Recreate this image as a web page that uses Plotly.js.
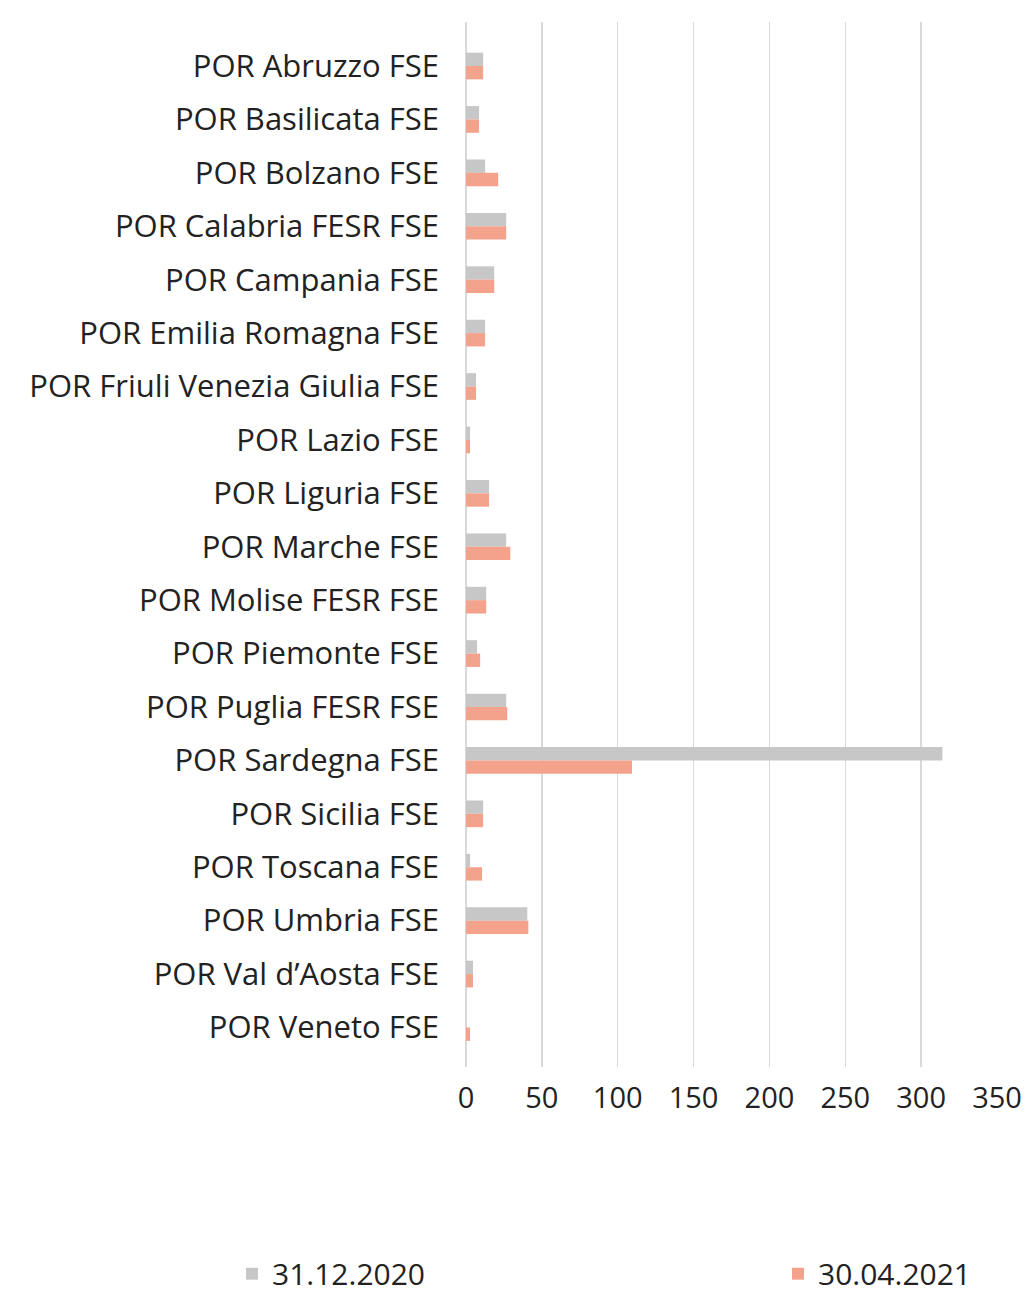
<!DOCTYPE html>
<html>
<head>
<meta charset="utf-8">
<script src="https://cdn.plot.ly/plotly-3.0.1.min.js"></script>
<style>html,body{margin:0;padding:0;background:#fff;}#chart{width:1029px;height:1297px;}</style>
</head>
<body>
<div id="chart"></div>
<script>
const categories = ["POR Abruzzo FSE", "POR Basilicata FSE", "POR Bolzano FSE", "POR Calabria FESR FSE", "POR Campania FSE", "POR Emilia Romagna FSE", "POR Friuli Venezia Giulia FSE", "POR Lazio FSE", "POR Liguria FSE", "POR Marche FSE", "POR Molise FESR FSE", "POR Piemonte FSE", "POR Puglia FESR FSE", "POR Sardegna FSE", "POR Sicilia FSE", "POR Toscana FSE", "POR Umbria FSE", "POR Val d\u2019Aosta FSE", "POR Veneto FSE"];
const values2020 = [11.3, 8.6, 12.6, 26.5, 18.6, 12.6, 6.6, 2.7, 15.2, 26.5, 13.3, 7.3, 26.5, 314, 11.3, 2.7, 40.4, 4.6, 0];
const values2021 = [11.3, 8.6, 21.2, 26.5, 18.6, 12.6, 6.6, 2.7, 15.2, 29.2, 13.3, 9.3, 27.2, 109.4, 11.3, 10.6, 41.1, 4.6, 2.7];
const seriesNames = ["31.12.2020", "30.04.2021"];
const xTicks = [0, 50, 100, 150, 200, 250, 300, 350];

const FONT = "'Open Sans', Lato, sans-serif";
const traces = [
  {type: 'bar', orientation: 'h', name: seriesNames[0], y: categories, x: values2020,
   marker: {color: '#C7C7C7'}, legend: 'legend'},
  {type: 'bar', orientation: 'h', name: seriesNames[1], y: categories, x: values2021,
   marker: {color: '#F4A28B'}, legend: 'legend2'}
];
const legendBase = {orientation: 'h', xref: 'container', yref: 'container', xanchor: 'left',
  yanchor: 'middle', y: 0.018, bgcolor: 'rgba(0,0,0,0)',
  font: {family: FONT, size: 30, color: '#222'}};
const layout = {
  width: 1029, height: 1297,
  margin: {l: 466, r: 32, t: 22, b: 230, autoexpand: false},
  paper_bgcolor: '#fff', plot_bgcolor: '#fff',
  font: {family: FONT, size: 29, color: '#222'},
  barmode: 'group', bargap: 0.5, bargroupgap: 0,
  showlegend: true,
  legend: Object.assign({}, legendBase, {x: 232 / 1029}),
  legend2: Object.assign({}, legendBase, {x: 778 / 1029}),
  xaxis: {range: [0, 350], tickvals: xTicks, ticktext: xTicks.map(String),
          showgrid: true, gridcolor: '#D9D9D9', gridwidth: 1.5,
          zeroline: true, zerolinecolor: '#D9D9D9', zerolinewidth: 2,
          showline: false, ticks: '', ticklabelstandoff: 11, fixedrange: true},
  yaxis: {type: 'category', range: [18.74, -0.824], showgrid: false, zeroline: false,
          showline: false, ticks: '', ticklabelstandoff: 26, fixedrange: true,
          tickfont: {family: FONT, size: 31, color: '#222'}}
};
Plotly.newPlot('chart', traces, layout, {staticPlot: true, displayModeBar: false});
</script>
</body>
</html>
